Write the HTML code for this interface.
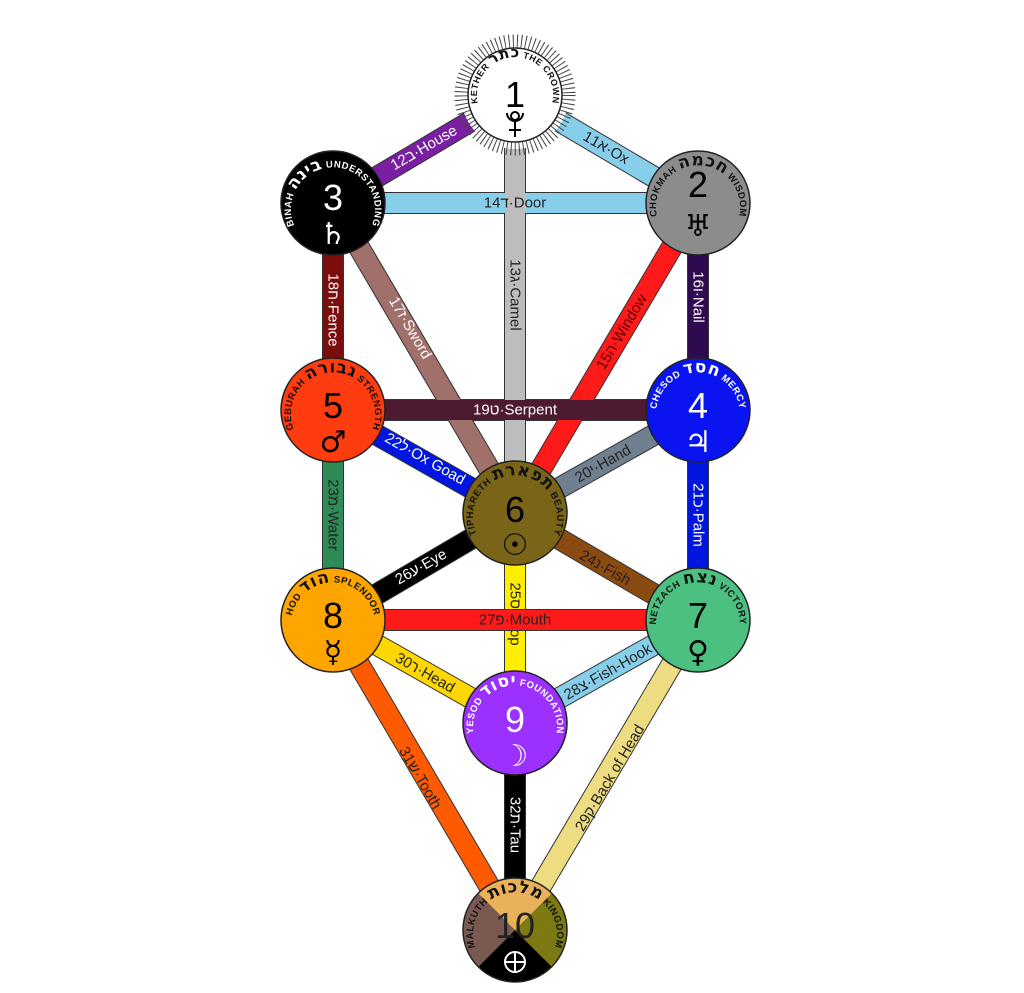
<!DOCTYPE html>
<html><head><meta charset="utf-8"><style>
html,body{margin:0;padding:0;background:#fff;}
svg{display:block;}
.pl{font-family:"Liberation Sans","DejaVu Sans",sans-serif;font-size:15px;}
.nl{font-family:"Liberation Sans","DejaVu Sans",sans-serif;font-size:9.5px;font-weight:bold;letter-spacing:0.5px;}
.hb{font-family:"DejaVu Sans","Liberation Sans",sans-serif;font-size:17px;font-weight:bold;}
.num{font-family:"Liberation Sans",sans-serif;font-size:36px;}
.sym{font-family:"DejaVu Sans",sans-serif;font-size:30px;}
</style></head><body>
<svg width="1024" height="993" viewBox="0 0 1024 993" xmlns="http://www.w3.org/2000/svg">
<defs>
<path id="a1" d="M488,122 A38,38 0 1 1 542,122"/>
<path id="a2" d="M664,232 A42,42 0 1 1 732,232"/>
<path id="a3" d="M299,234 A42,42 0 1 1 367,234"/>
<path id="a4" d="M664,439 A42,42 0 1 1 732,439"/>
<path id="a5" d="M299,439 A42,42 0 1 1 367,439"/>
<path id="a6" d="M481,542 A42,42 0 1 1 549,542"/>
<path id="a7" d="M664,649 A42,42 0 1 1 732,649"/>
<path id="a8" d="M299,649 A42,42 0 1 1 367,649"/>
<path id="a9" d="M481,752 A42,42 0 1 1 549,752"/>
<path id="a10" d="M481,959 A42,42 0 1 1 549,959"/>
</defs>
<g stroke-linecap="butt">
<g stroke="#333" stroke-width="22">
<line x1="515" y1="95" x2="333" y2="203"/><line x1="515" y1="95" x2="698" y2="203"/>
<line x1="333" y1="203" x2="698" y2="203"/><line x1="515" y1="95" x2="515" y2="513"/>
<line x1="333" y1="203" x2="515" y2="513"/><line x1="333" y1="203" x2="333" y2="410"/>
<line x1="698" y1="203" x2="515" y2="513"/><line x1="698" y1="203" x2="698" y2="410"/>
<line x1="333" y1="410" x2="698" y2="410"/><line x1="333" y1="410" x2="515" y2="513"/>
<line x1="698" y1="410" x2="515" y2="513"/><line x1="333" y1="410" x2="333" y2="620"/>
<line x1="698" y1="410" x2="698" y2="620"/><line x1="333" y1="620" x2="515" y2="513"/>
<line x1="515" y1="513" x2="698" y2="620"/><line x1="515" y1="513" x2="515" y2="723"/>
<line x1="333" y1="620" x2="515" y2="723"/><line x1="698" y1="620" x2="515" y2="723"/>
<line x1="333" y1="620" x2="515" y2="930"/><line x1="515" y1="723" x2="515" y2="930"/>
<line x1="698" y1="620" x2="515" y2="930"/>
</g>
<g stroke-width="20">
<line x1="515" y1="95" x2="333" y2="203" stroke="#7a1fa2"/>
<line x1="515" y1="95" x2="698" y2="203" stroke="#87ceeb"/>
<line x1="333" y1="203" x2="698" y2="203" stroke="#87ceeb"/>
<line x1="515" y1="95" x2="515" y2="513" stroke="#bdbdbd"/>
<line x1="333" y1="203" x2="515" y2="513" stroke="#a0706a"/>
<line x1="333" y1="203" x2="333" y2="410" stroke="#7b0d0d"/>
<line x1="698" y1="203" x2="515" y2="513" stroke="#ff1a1a"/>
<line x1="698" y1="203" x2="698" y2="410" stroke="#2e0a50"/>
<line x1="333" y1="410" x2="698" y2="410" stroke="#4e1a32"/>
<line x1="333" y1="410" x2="515" y2="513" stroke="#0015e0"/>
<line x1="698" y1="410" x2="515" y2="513" stroke="#708090"/>
<line x1="333" y1="410" x2="333" y2="620" stroke="#2e8b57"/>
<line x1="698" y1="410" x2="698" y2="620" stroke="#0015e0"/>
<line x1="333" y1="620" x2="515" y2="513" stroke="#000"/>
<line x1="515" y1="513" x2="698" y2="620" stroke="#8b4a10"/>
<line x1="515" y1="513" x2="515" y2="723" stroke="#ffee00"/>
<line x1="333" y1="620" x2="515" y2="723" stroke="#ffd700"/>
<line x1="698" y1="620" x2="515" y2="723" stroke="#87ceeb"/>
<line x1="333" y1="620" x2="515" y2="930" stroke="#ff5a00"/>
<line x1="515" y1="723" x2="515" y2="930" stroke="#000"/>
<line x1="698" y1="620" x2="515" y2="930" stroke="#eedc82"/>
</g>
</g>
<g class="pl" text-anchor="middle" dominant-baseline="central">
<text transform="translate(424,148) rotate(-30.2)" fill="#fff">12ב·House</text>
<text transform="translate(606,148) rotate(30.1)" fill="#222">11א·Ox</text>
<text x="515" y="203" fill="#222">14ד·Door</text>
<text transform="translate(515,295) rotate(90)" fill="#222">13ג·Camel</text>
<text transform="translate(410,328) rotate(59.6)" fill="#fff">17ז·Sword</text>
<text transform="translate(333,310) rotate(90)" fill="#fff">18ח·Fence</text>
<text transform="translate(622,332) rotate(-59.4)" fill="#5a0000">15ה·Window</text>
<text transform="translate(698,297) rotate(90)" fill="#fff">16ו·Nail</text>
<text x="515" y="410" fill="#fff">19ט·Serpent</text>
<text transform="translate(425,459) rotate(29.5)" fill="#fff">22ל·Ox Goad</text>
<text transform="translate(603,464) rotate(-29.5)" fill="#222">20י·Hand</text>
<text transform="translate(333,515) rotate(90)" fill="#222">23מ·Water</text>
<text transform="translate(698,515) rotate(90)" fill="#fff">21כ·Palm</text>
<text transform="translate(421,567) rotate(-29.5)" fill="#fff">26ע·Eye</text>
<text transform="translate(605,568) rotate(29.5)" fill="#222">24נ·Fish</text>
<text transform="translate(515,614) rotate(90)" fill="#222">25ס·Prop</text>
</g>
<line x1="333" y1="620" x2="698" y2="620" stroke="#333" stroke-width="22"/>
<line x1="333" y1="620" x2="698" y2="620" stroke="#ff1a1a" stroke-width="20"/>
<g class="pl" text-anchor="middle" dominant-baseline="central">
<text x="515" y="620" fill="#222">27פ·Mouth</text>
<text transform="translate(425,673) rotate(29.5)" fill="#222">30ר·Head</text>
<text transform="translate(608,672) rotate(-29.5)" fill="#222">28צ·Fish-Hook</text>
<text transform="translate(420,778) rotate(59.6)" fill="#222">31ש·Tooth</text>
<text transform="translate(515,825) rotate(90)" fill="#fff">32ת·Tau</text>
<text transform="translate(610,778) rotate(-59.4)" fill="#222">29ק·Back of Head</text>
</g>
<circle cx="515" cy="95" r="54" fill="#fff" stroke="#444" stroke-width="13" stroke-dasharray="1 3.2"/>
<g stroke="#222" stroke-width="1.5">
<circle cx="515" cy="95" r="47" fill="#fff"/>
<circle cx="698" cy="203" r="52" fill="#8c8c8c"/>
<circle cx="333" cy="203" r="52" fill="#000"/>
<circle cx="698" cy="410" r="52" fill="#0a14f0"/>
<circle cx="333" cy="410" r="52" fill="#ff3c0f"/>
<circle cx="515" cy="513" r="52" fill="#7a6418"/>
<circle cx="698" cy="620" r="52" fill="#4cc080"/>
<circle cx="333" cy="620" r="52" fill="#ffa500"/>
<circle cx="515" cy="723" r="52" fill="#9b30ff"/>
</g>
<clipPath id="mc"><circle cx="515" cy="930" r="52"/></clipPath>
<g clip-path="url(#mc)">
<polygon points="515,930 455,870 575,870" fill="#e9b25a"/>
<polygon points="515,930 575,870 575,990" fill="#7d7a14"/>
<polygon points="515,930 455,870 455,990" fill="#7a5a50"/>
<polygon points="515,930 455,990 575,990" fill="#000"/>
</g>
<circle cx="515" cy="930" r="52" fill="none" stroke="#222" stroke-width="1.5"/>
<g class="nl" text-anchor="middle">
<text fill="#111" style="font-size:9px"><textPath href="#a1" startOffset="50%">KETHER <tspan class="hb" style="font-size:15px">כתר</tspan> THE CROWN</textPath></text>
<text fill="#111"><textPath href="#a2" startOffset="50%">CHOKMAH <tspan class="hb">חכמה</tspan> WISDOM</textPath></text>
<text fill="#fff"><textPath href="#a3" startOffset="50%">BINAH <tspan class="hb">בינה</tspan> UNDERSTANDING</textPath></text>
<text fill="#fff"><textPath href="#a4" startOffset="50%">CHESOD <tspan class="hb">חסד</tspan> MERCY</textPath></text>
<text fill="#111"><textPath href="#a5" startOffset="50%">GEBURAH <tspan class="hb">גבורה</tspan> STRENGTH</textPath></text>
<text fill="#111"><textPath href="#a6" startOffset="50%">TIPHARETH <tspan class="hb">תפארת</tspan> BEAUTY</textPath></text>
<text fill="#111"><textPath href="#a7" startOffset="50%">NETZACH <tspan class="hb">נצח</tspan> VICTORY</textPath></text>
<text fill="#111"><textPath href="#a8" startOffset="50%">HOD <tspan class="hb">הוד</tspan> SPLENDOR</textPath></text>
<text fill="#fff"><textPath href="#a9" startOffset="50%">YESOD <tspan class="hb">יסוד</tspan> FOUNDATION</textPath></text>
<text fill="#111"><textPath href="#a10" startOffset="50%">MALKUTH <tspan class="hb">מלכות</tspan> KINGDOM</textPath></text>
</g>
<g text-anchor="middle">
<text class="num" x="515" y="107" fill="#000">1</text>
<text class="num" x="698" y="197" fill="#000">2</text>
<text class="num" x="333" y="210" fill="#fff">3</text>
<text class="num" x="698" y="418" fill="#fff">4</text>
<text class="num" x="333" y="418" fill="#000">5</text>
<text class="num" x="515" y="522" fill="#000">6</text>
<text class="num" x="698" y="628" fill="#000">7</text>
<text class="num" x="333" y="628" fill="#000">8</text>
<text class="num" x="515" y="732" fill="#fff">9</text>
<text class="num" x="515" y="938" fill="#222">10</text>
<text class="sym" x="698" y="236" fill="#000">♅</text>
<text class="sym" x="333" y="244" fill="#fff">♄</text>
<text class="sym" x="698" y="452" fill="#fff">♃</text>
<text class="sym" x="333" y="452" fill="#000">♂</text>
<text class="sym" x="515" y="555" fill="#000">☉</text>
<text class="sym" x="698" y="662" fill="#000">♀</text>
<text class="sym" x="333" y="662" fill="#000">☿</text>
<text class="sym" x="515" y="766" fill="#fff">☽</text>
</g>
<g stroke="#000" stroke-width="2" fill="none">
<circle cx="515" cy="116" r="4"/>
<path d="M507,113 A8,8 0 0 0 523,113"/>
<line x1="515" y1="121" x2="515" y2="137"/><line x1="509" y1="130" x2="521" y2="130"/>
</g>
<g stroke="#fff" stroke-width="2" fill="none">
<circle cx="515" cy="962" r="10"/>
<line x1="505" y1="962" x2="525" y2="962"/><line x1="515" y1="952" x2="515" y2="972"/>
</g>
</svg>
</body></html>
